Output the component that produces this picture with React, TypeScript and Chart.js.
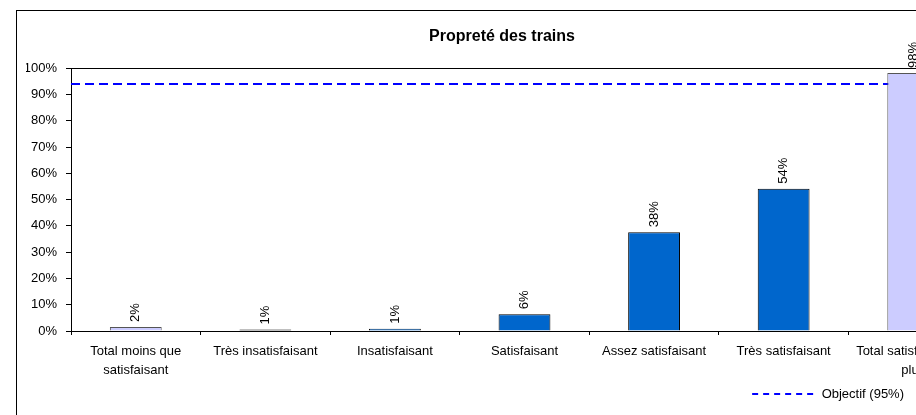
import React, { useEffect, useRef } from "react";
import { Chart, registerables } from "chart.js";

Chart.register(...registerables);

const titleText = "Propreté des trains";
const categories: (string | string[])[] = [
  ["Total moins que", "satisfaisant"],
  "Très insatisfaisant",
  "Insatisfaisant",
  "Satisfaisant",
  "Assez satisfaisant",
  "Très satisfaisant",
  ["Total satisfaisant ou", "plus"],
];
const values = [1.5, 0.6, 0.9, 6.4, 37.6, 54.1, 98.2];
const barColors = ["#CCCCFF", "#000000", "#0066CC", "#0066CC", "#0066CC", "#0066CC", "#CCCCFF"];
const barBorders = ["#555555", "#000000", "#000000", "#000000", "#000000", "#000000", "#555555"];
const objective = 94;
const objectiveLabel = "Objectif (95%)";

const FONT = "'Liberation Sans', Arial, sans-serif";

const valueLabelPlugin = {
  id: "valueLabels",
  afterDatasetsDraw(chart: any) {
    const meta = chart.getDatasetMeta(0);
    const ctx = chart.ctx;
    ctx.save();
    ctx.font = `13px ${FONT}`;
    ctx.fillStyle = "#000";
    ctx.textAlign = "left";
    ctx.textBaseline = "middle";
    meta.data.forEach((bar: any, i: number) => {
      ctx.save();
      ctx.translate(bar.x, bar.y - 5);
      ctx.rotate(-Math.PI / 2);
      ctx.fillText(`${Math.round(values[i])}%`, 0, 0);
      ctx.restore();
    });
    ctx.restore();
  },
};

const legendShiftPlugin = {
  id: "legendShift",
  beforeDraw(chart: any) {
    const lg = chart.legend;
    if (lg) {
      lg.right = chart.chartArea.right - 64;
    }
  },
};

export default function App() {
  const ref = useRef<HTMLCanvasElement>(null);
  useEffect(() => {
    document.body.style.overflow = "hidden";
    const canvas = ref.current!;
    const chart = new Chart(canvas, {
      type: "bar",
      data: {
        labels: categories,
        datasets: [
          {
            type: "bar",
            label: "",
            data: values,
            backgroundColor: barColors,
            borderColor: barBorders,
            borderWidth: 1,
            barPercentage: 0.4,
            categoryPercentage: 1,
            grouped: false,
            xAxisID: "x",
            yAxisID: "y",
          } as any,
          {
            type: "line",
            label: objectiveLabel,
            data: [
              { x: 0, y: objective },
              { x: categories.length, y: objective },
            ],
            xAxisID: "x2",
            yAxisID: "y",
            borderColor: "#0000FF",
            backgroundColor: "#0000FF",
            borderWidth: 2,
            borderDash: [9, 5],
            pointRadius: 0,
            fill: false,
          } as any,
        ],
      },
      options: {
        responsive: false,
        animation: false,
        events: [],
        layout: { padding: { left: 9, right: 9, top: 0, bottom: 4.5 } },
        plugins: {
          title: {
            display: true,
            text: titleText,
            color: "#000",
            font: { family: FONT, size: 16, weight: "bold", lineHeight: 1.2 },
            padding: { top: 16, bottom: 14 },
          },
          tooltip: { enabled: false },
          legend: {
            display: true,
            position: "bottom",
            align: "end",
            labels: {
              color: "#000",
              font: { family: FONT, size: 13 },
              usePointStyle: true,
              pointStyle: "line",
              pointStyleWidth: 63,
              padding: 10,
              filter: (item: any) => item.datasetIndex === 1,
              generateLabels: (c: any) =>
                Chart.defaults.plugins.legend.labels
                  .generateLabels(c)
                  .map((it: any) => ({ ...it, lineDash: [6, 5], lineWidth: 2 })),
            },
          },
        },
        scales: {
          x: {
            type: "category",
            position: "bottom",
            offset: true,
            grid: {
              offset: true,
              drawOnChartArea: false,
              color: "#000",
              tickLength: 4,
            },
            border: { display: true, color: "#000", width: 1 },
            ticks: {
              color: "#000",
              font: { family: FONT, size: 13, lineHeight: 19 / 13 },
              padding: 6.5,
              autoSkip: false,
              maxRotation: 0,
              minRotation: 0,
            },
            afterFit: (s: any) => {
              s.height = 46.5;
            },
          },
          x2: {
            type: "linear",
            position: "top",
            min: 0,
            max: categories.length,
            offset: false,
            display: true,
            grid: { display: false, offset: false },
            ticks: { display: false },
            border: { display: true, color: "#000", width: 1 },
          },
          y: {
            type: "linear",
            min: 0,
            max: 100,
            grid: {
              drawOnChartArea: false,
              color: "#000",
              tickLength: 5,
            },
            border: { display: true, color: "#000", width: 1 },
            ticks: {
              stepSize: 10,
              color: "#000",
              font: { family: FONT, size: 13 },
              padding: 9,
              callback: (v: any) => `${v}%`,
            },
            afterFit: (s: any) => {
              s.width = 45;
            },
          },
        },
      } as any,
      plugins: [valueLabelPlugin, legendShiftPlugin],
    });
    return () => chart.destroy();
  }, []);

  return (
    <div
      style={{
        position: "fixed",
        left: 0,
        top: 0,
        width: 916,
        height: 415,
        overflow: "hidden",
        background: "#fff",
      }}
    >
      <div
        style={{
          position: "absolute",
          left: 16,
          top: 10,
          width: 970,
          height: 404,
          border: "1px solid #000",
          background: "#fff",
        }}
      >
        <canvas ref={ref} width={970} height={404} style={{ display: "block", width: 970, height: 404 }} />
      </div>
    </div>
  );
}
